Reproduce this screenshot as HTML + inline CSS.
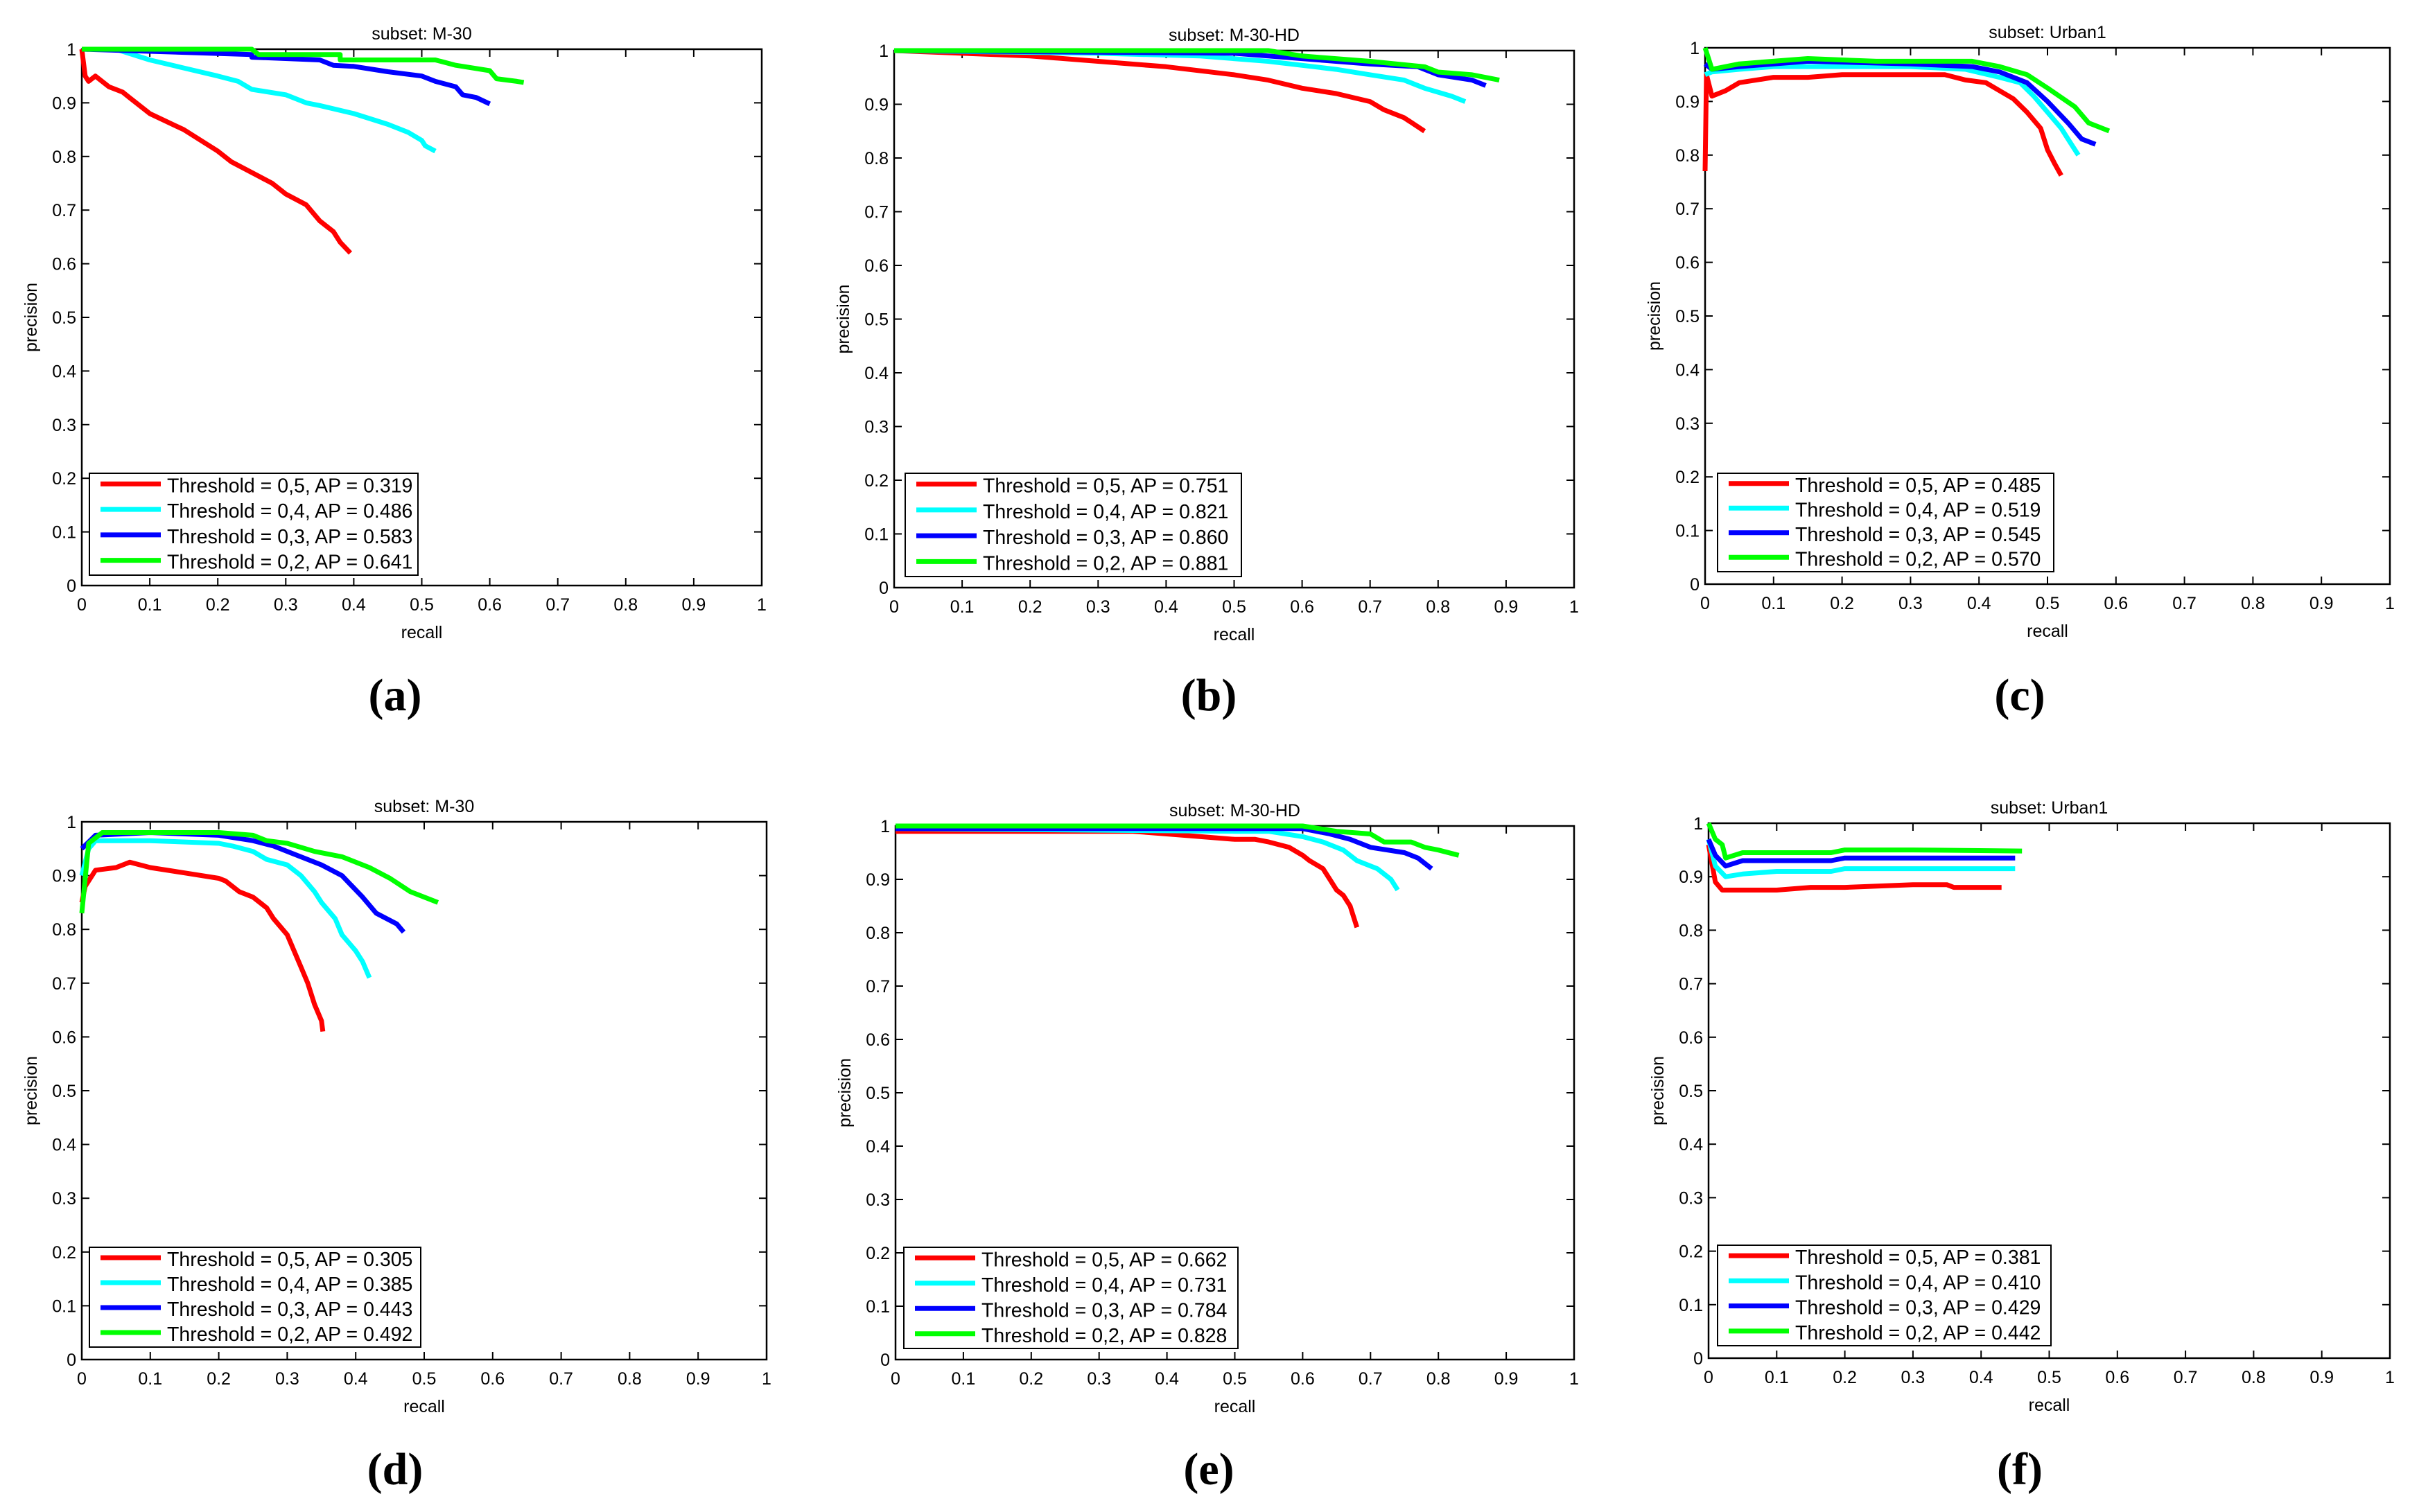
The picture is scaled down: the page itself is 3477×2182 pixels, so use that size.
<!DOCTYPE html>
<html><head><meta charset="utf-8"><style>
html,body{margin:0;padding:0;background:#fff;}
svg{display:block;}
text{font-family:"Liberation Sans",sans-serif;fill:#000;}
</style></head><body>
<svg id="fig" width="3477" height="2182" viewBox="0 0 3477 2182" xmlns="http://www.w3.org/2000/svg"></svg>
<script>
const panelTitles = ["subset: M-30","subset: M-30-HD","subset: Urban1","subset: M-30","subset: M-30-HD","subset: Urban1"];
const panelLetters = ["(a)","(b)","(c)","(d)","(e)","(f)"];
const thresholds = ["0,5","0,4","0,3","0,2"];
const apValues = [
  ["0.319","0.486","0.583","0.641"],
  ["0.751","0.821","0.860","0.881"],
  ["0.485","0.519","0.545","0.570"],
  ["0.305","0.385","0.443","0.492"],
  ["0.662","0.731","0.784","0.828"],
  ["0.381","0.410","0.429","0.442"]
];
const tickLabels = ["0","0.1","0.2","0.3","0.4","0.5","0.6","0.7","0.8","0.9","1"];
const recallA = [
 [0,0.005,0.01,0.02,0.04,0.06,0.07,0.1,0.15,0.2,0.22,0.25,0.28,0.3,0.33,0.35,0.37,0.38,0.395],
 [0,0.05,0.1,0.15,0.2,0.23,0.25,0.3,0.33,0.35,0.4,0.45,0.48,0.5,0.505,0.52],
 [0,0.25,0.25,0.35,0.37,0.4,0.45,0.5,0.52,0.55,0.56,0.58,0.6],
 [0,0.25,0.26,0.38,0.38,0.52,0.55,0.6,0.61,0.64,0.65]];
const precA = [
 [1,0.95,0.94,0.95,0.93,0.92,0.91,0.88,0.85,0.81,0.79,0.77,0.75,0.73,0.71,0.68,0.66,0.64,0.62],
 [1,1,0.98,0.965,0.95,0.94,0.925,0.915,0.9,0.895,0.88,0.86,0.845,0.83,0.82,0.81],
 [1,0.99,0.985,0.98,0.97,0.968,0.958,0.95,0.94,0.93,0.915,0.91,0.898],
 [1,1,0.99,0.99,0.98,0.98,0.97,0.96,0.945,0.94,0.938]];
const recallB = [
 [0,0.1,0.2,0.3,0.4,0.5,0.55,0.6,0.65,0.7,0.72,0.75,0.78],
 [0,0.3,0.45,0.55,0.65,0.7,0.75,0.78,0.82,0.84],
 [0,0.5,0.6,0.7,0.77,0.8,0.85,0.87],
 [0,0.55,0.6,0.7,0.78,0.8,0.85,0.89]];
const precB = [
 [1,0.995,0.99,0.98,0.97,0.955,0.945,0.93,0.92,0.905,0.89,0.875,0.85],
 [1,0.995,0.99,0.98,0.965,0.955,0.945,0.93,0.915,0.905],
 [1,0.995,0.985,0.975,0.97,0.955,0.945,0.935],
 [1,1,0.99,0.98,0.97,0.96,0.955,0.945]];
const recallC = [
 [0,0.002,0.01,0.03,0.05,0.1,0.15,0.2,0.3,0.35,0.38,0.41,0.43,0.45,0.47,0.49,0.5,0.51,0.52],
 [0,0.01,0.05,0.1,0.3,0.38,0.43,0.46,0.48,0.5,0.52,0.53,0.545],
 [0,0.01,0.05,0.1,0.15,0.3,0.39,0.43,0.47,0.5,0.53,0.55,0.57],
 [0,0.01,0.05,0.15,0.25,0.39,0.43,0.47,0.5,0.54,0.56,0.59]];
const precC = [
 [0.77,0.95,0.91,0.92,0.935,0.945,0.945,0.95,0.95,0.95,0.94,0.935,0.92,0.905,0.88,0.85,0.81,0.785,0.762],
 [0.95,0.955,0.96,0.965,0.965,0.96,0.945,0.935,0.91,0.88,0.85,0.83,0.8],
 [0.97,0.96,0.965,0.97,0.975,0.97,0.965,0.955,0.935,0.9,0.86,0.83,0.82],
 [1,0.96,0.97,0.98,0.975,0.975,0.965,0.95,0.925,0.89,0.86,0.845]];
const recallD = [
 [0,0.005,0.02,0.05,0.07,0.1,0.15,0.2,0.21,0.23,0.25,0.27,0.28,0.3,0.31,0.32,0.33,0.34,0.35,0.352],
 [0,0.01,0.02,0.05,0.1,0.2,0.22,0.25,0.27,0.3,0.32,0.34,0.35,0.37,0.38,0.4,0.41,0.42],
 [0,0.02,0.1,0.2,0.25,0.28,0.31,0.35,0.38,0.41,0.43,0.46,0.47],
 [0,0.01,0.03,0.1,0.2,0.25,0.27,0.3,0.34,0.38,0.42,0.45,0.48,0.51,0.52]];
const precD = [
 [0.85,0.88,0.91,0.915,0.925,0.915,0.905,0.895,0.89,0.87,0.86,0.84,0.82,0.79,0.76,0.73,0.7,0.66,0.63,0.61],
 [0.9,0.95,0.965,0.965,0.965,0.96,0.955,0.945,0.93,0.92,0.9,0.87,0.85,0.82,0.79,0.76,0.74,0.71],
 [0.95,0.975,0.98,0.975,0.965,0.955,0.94,0.92,0.9,0.86,0.83,0.81,0.795],
 [0.83,0.96,0.98,0.98,0.98,0.975,0.965,0.96,0.945,0.935,0.915,0.895,0.87,0.855,0.85]];
const recallE = [
 [0,0.35,0.4,0.45,0.5,0.53,0.55,0.58,0.6,0.61,0.63,0.64,0.65,0.66,0.67,0.675,0.68],
 [0,0.5,0.55,0.6,0.63,0.66,0.68,0.71,0.73,0.74],
 [0,0.6,0.64,0.67,0.7,0.75,0.77,0.79],
 [0,0.6,0.65,0.7,0.72,0.76,0.78,0.8,0.83]];
const precE = [
 [0.99,0.99,0.985,0.98,0.975,0.975,0.97,0.96,0.945,0.935,0.92,0.9,0.88,0.87,0.85,0.83,0.81],
 [0.995,0.99,0.99,0.98,0.97,0.955,0.935,0.92,0.9,0.88],
 [0.995,0.995,0.985,0.975,0.96,0.95,0.94,0.92],
 [1,1,0.99,0.985,0.97,0.97,0.96,0.955,0.945]];
const recallF = [
 [0,0.01,0.02,0.05,0.1,0.15,0.2,0.3,0.35,0.36,0.43],
 [0,0.01,0.025,0.05,0.1,0.18,0.2,0.3,0.45],
 [0,0.01,0.025,0.05,0.1,0.18,0.2,0.3,0.45],
 [0,0.01,0.02,0.025,0.05,0.1,0.18,0.2,0.3,0.46]];
const precF = [
 [0.96,0.89,0.875,0.875,0.875,0.88,0.88,0.885,0.885,0.88,0.88],
 [0.97,0.92,0.9,0.905,0.91,0.91,0.915,0.915,0.915],
 [0.97,0.94,0.92,0.93,0.93,0.93,0.935,0.935,0.935],
 [1,0.97,0.96,0.935,0.945,0.945,0.945,0.95,0.95,0.948]];

const allRecall=[recallA,recallB,recallC,recallD,recallE,recallF];
const allPrec=[precA,precB,precC,precD,precE,precF];
const colors=["#ff0000","#00ffff","#0000ff","#00ff00"];
const boxes=[[118,71,1099,845],[1290,73,2271,848],[2460,69,3448,843],[118,1186,1106,1962],[1292,1192,2271,1962],[2465,1188,3448,1960]];
const legBoxes=[[129,683,603,830],[1306,683,1791,832],[2478,683,2963,825],[129,1800,607,1944],[1304,1800,1786,1946],[2478,1797,2959,1942]];
const letterPos=[[570,1003],[1744,1003],[2914,1003],[570,2120],[1744,2120],[2914,2120]];

const NS="http://www.w3.org/2000/svg";
const svg=document.getElementById('fig');
function mk(tag,attrs,parent){const e=document.createElementNS(NS,tag);for(const k in attrs)e.setAttribute(k,attrs[k]);(parent||svg).appendChild(e);return e;}

for(let p=0;p<6;p++){
  const [x0,y0,x1,y1]=boxes[p];
  const g=mk('g',{});
  
  
  const sx=v=>x0+v*(x1-x0);
  const sy=v=>y1-v*(y1-y0);
  const frame=mk('rect',{x:x0,y:y0,width:x1-x0,height:y1-y0,fill:'#fff',stroke:'#000','stroke-width':2.5},g);
  
  
  for(let i=0;i<=10;i++){
    const v=i/10;
    mk('line',{x1:sx(v),y1:y1,x2:sx(v),y2:y1-11,stroke:'#000','stroke-width':2},g);
    mk('line',{x1:sx(v),y1:y0,x2:sx(v),y2:y0+11,stroke:'#000','stroke-width':2},g);
    mk('line',{x1:x0,y1:sy(v),x2:x0+11,y2:sy(v),stroke:'#000','stroke-width':2},g);
    mk('line',{x1:x1,y1:sy(v),x2:x1-11,y2:sy(v),stroke:'#000','stroke-width':2},g);
    const tx=mk('text',{x:sx(v),y:y1+36,'font-size':25,'text-anchor':'middle'},g);
    tx.textContent=tickLabels[i];
    
    
    const ty=mk('text',{x:x0-8,y:sy(v)+9,'font-size':25,'text-anchor':'end'},g);
    ty.textContent=tickLabels[i];
    
    
  }
  const t=mk('text',{x:(x0+x1)/2,y:y0-14,'font-size':25,'text-anchor':'middle'},g);
  t.textContent=panelTitles[p];
  
  
  const xl=mk('text',{x:(x0+x1)/2,y:y1+76,'font-size':25,'text-anchor':'middle'},g);
  xl.textContent='recall';
  
  
  const ycx=x0-65, ycy=(y0+y1)/2;
  const yl=mk('text',{x:ycx,y:ycy,'font-size':25,'text-anchor':'middle',transform:`rotate(-90 ${ycx} ${ycy})`},g);
  yl.textContent='precision';
  
  
  for(let s=0;s<4;s++){
    const rs=allRecall[p][s], ps=allPrec[p][s];
    const pts=rs.map((r,i)=>sx(r).toFixed(1)+','+sy(ps[i]).toFixed(1)).join(' ');
    const pl=mk('polyline',{points:pts,fill:'none',stroke:colors[s],'stroke-width':7,'stroke-linejoin':'round'},g);
    
    
  }
  const [lx0,ly0,lx1,ly1]=legBoxes[p];
  const lg=mk('g',{},g);
  
  
  mk('rect',{x:lx0,y:ly0,width:lx1-lx0,height:ly1-ly0,fill:'#fff',stroke:'#000','stroke-width':2},lg);
  const rowH=(ly1-ly0)/4;
  for(let s=0;s<4;s++){
    const cy=ly0+rowH*(s+0.5);
    const ent=mk('g',{},lg);
    
    
    mk('line',{x1:lx0+16,y1:cy-3,x2:lx0+103,y2:cy-3,stroke:colors[s],'stroke-width':7},ent);
    const lt=mk('text',{x:lx0+112,y:cy+9,'font-size':28.5},ent);
    lt.textContent='Threshold = '+thresholds[s]+', AP = '+apValues[p][s];
  }
  const L=mk('text',{x:letterPos[p][0],y:letterPos[p][1]+22,'font-size':66,'font-weight':'bold','text-anchor':'middle',style:'font-family:"Liberation Serif",serif'},g);
  L.textContent=panelLetters[p];
  
  
}
</script>
</body></html>
